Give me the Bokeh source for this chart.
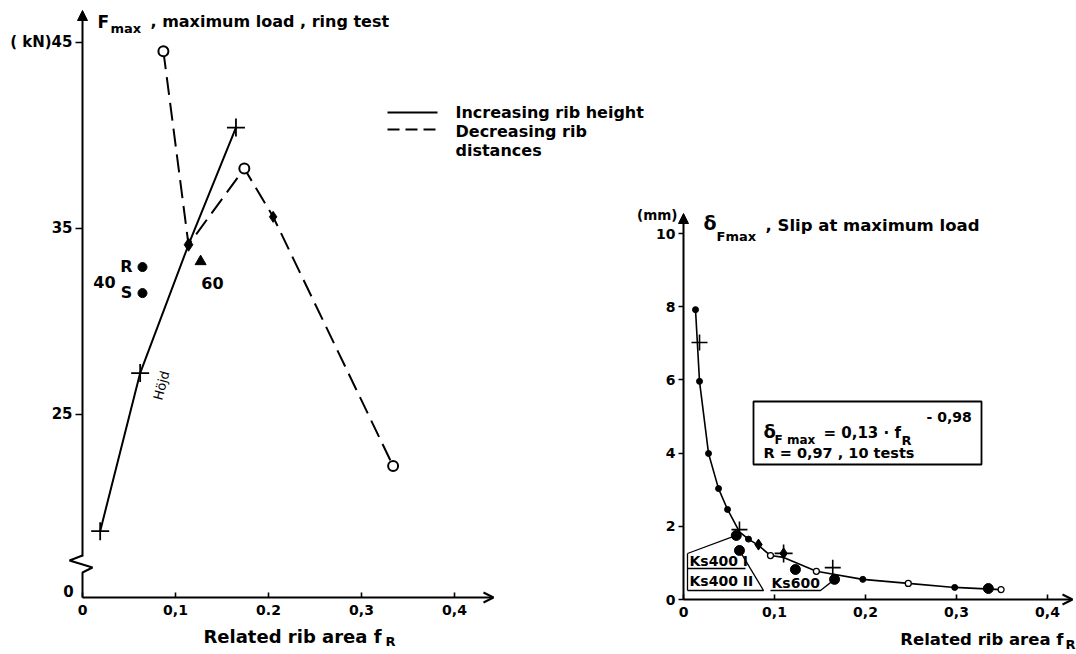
from bokeh.plotting import figure
from bokeh.models import Range1d, LinearAxis, FixedTicker, Arrow, NormalHead, OpenHead
from bokeh.core.properties import value
from bokeh.embed import file_html
from bokeh.resources import INLINE

FONT = "DejaVu Sans"

# ---------------- data ----------------
# Left panel: F_max, maximum load in ring test (kN) vs related rib area f_R
inc_fr = [0.019, 0.062, 0.114, 0.165]          # increasing rib height (solid)
inc_f = [18.7, 27.2, 34.1, 40.4]
dec_fr = [0.087, 0.114, 0.174, 0.205, 0.334]   # decreasing rib distances (dashed)
dec_f = [44.5, 34.1, 38.2, 35.6, 22.2]
rs_fr = [0.0645, 0.0645]                       # bar 40 R and 40 S
rs_f = [32.9, 31.5]
rs_names = ["R", "S"]
t60_fr = [0.127]                               # bar 60
t60_f = [33.2]

left_y_ticks = [25, 35, 45]
left_y_labels = ["25", "35", "( kN)45"]
x_ticks = [0, 0.1, 0.2, 0.3, 0.4]
left_x_labels = ["0", "0,1", "0.2", "0,3", "0,4"]
right_x_labels = ["0", "0,1", "0,2", "0,3", "0,4"]
right_y_ticks = [0, 2, 4, 6, 8, 10]

# Right panel: slip at maximum load (mm) vs f_R
curve_fr = [0.0132, 0.0176, 0.0275, 0.0385, 0.0484, 0.0615, 0.0714, 0.0824,
            0.0956, 0.110, 0.146, 0.197, 0.247, 0.298, 0.349]
curve_s = [7.92, 5.96, 3.99, 3.03, 2.46, 1.85, 1.65, 1.48,
           1.20, 1.15, 0.77, 0.55, 0.44, 0.33, 0.27]
small_fr = [0.0132, 0.0176, 0.0275, 0.0385, 0.0484, 0.0714, 0.197, 0.298]
small_s = [7.92, 5.96, 3.99, 3.03, 2.46, 1.65, 0.55, 0.33]
open_fr = [0.0956, 0.146, 0.247, 0.349]
open_s = [1.20, 0.77, 0.44, 0.27]
big_fr = [0.058, 0.0615, 0.123, 0.166, 0.335]
big_s = [1.75, 1.34, 0.82, 0.55, 0.30]
plus_fr = [0.0176, 0.0615, 0.164]
plus_s = [7.02, 1.91, 0.87]
dia_fr = [0.0824]
dia_s = [1.50]
star_fr = [0.110]
star_s = [1.26]

# ---------------- calibration (picture pixel -> panel units) ----------------
def lpx(px):
    return (px - 82.0) / 930.0

def lpy(py):
    return 35.0 - (py - 227.5) / 18.6

def rpx(px):
    return (px - 683.0) / 910.0

def rpy(py):
    return (599.0 - py) / 36.6

W, H = 1076, 654
OX, OY = 0, 0

p = figure(width=W, height=H,
           x_range=Range1d(lpx(OX), lpx(OX + W)),
           y_range=Range1d(lpy(OY + H), lpy(OY)),
           x_axis_location=None, y_axis_location=None,
           toolbar_location=None, output_backend="svg",
           min_border=0, min_border_left=0, min_border_right=0,
           min_border_top=0, min_border_bottom=0)
p.outline_line_color = None
p.background_fill_color = "white"
p.border_fill_color = "white"
p.grid.visible = False
p.extra_x_ranges = {"rx": Range1d(rpx(OX), rpx(OX + W))}
p.extra_y_ranges = {"ry": Range1d(rpy(OY + H), rpy(OY))}
R = dict(x_range_name="rx", y_range_name="ry")

YB = round(lpy(597), 3)   # broken-axis baseline ("0") of the left panel


def style_axis(ax, size):
    ax.axis_line_color = None
    ax.major_tick_line_color = "black"
    ax.major_tick_line_width = 1.6
    ax.minor_tick_line_color = None
    ax.major_label_text_font = FONT
    ax.major_label_text_font_style = "bold"
    ax.major_label_text_font_size = size
    ax.major_label_text_color = "black"


# left panel axes
ly_ax = LinearAxis(fixed_location=0, ticker=FixedTicker(ticks=left_y_ticks),
                   major_label_overrides=dict(zip(left_y_ticks, left_y_labels)))
style_axis(ly_ax, "15px")
ly_ax.major_tick_out = 7
ly_ax.major_tick_in = 0
ly_ax.major_label_standoff = 3
p.add_layout(ly_ax, "left")

lx_ax = LinearAxis(fixed_location=YB, ticker=FixedTicker(ticks=x_ticks),
                   major_label_overrides=dict(zip(x_ticks, left_x_labels)))
style_axis(lx_ax, "14px")
lx_ax.major_tick_out = 0
lx_ax.major_tick_in = 5
lx_ax.major_label_standoff = 7
p.add_layout(lx_ax, "below")

# right panel axes
ry_ax = LinearAxis(fixed_location=0, ticker=FixedTicker(ticks=right_y_ticks), **R)
style_axis(ry_ax, "14px")
ry_ax.major_tick_out = 5
ry_ax.major_tick_in = 0
ry_ax.major_label_standoff = 3
p.add_layout(ry_ax, "left")

rx_ax = LinearAxis(fixed_location=0, ticker=FixedTicker(ticks=x_ticks),
                   major_label_overrides=dict(zip(x_ticks, right_x_labels)), **R)
style_axis(rx_ax, "14px")
rx_ax.major_tick_out = 0
rx_ax.major_tick_in = 5
rx_ax.major_label_standoff = 7
p.add_layout(rx_ax, "below")

# axis lines with arrows (left y axis is broken with a zigzag)
p.line([0, 0, lpx(92), lpx(69), 0], [YB, lpy(572), lpy(567), lpy(560), lpy(555)],
       line_width=2, line_color="black")
p.add_layout(Arrow(x_start=0, y_start=lpy(556), x_end=0, y_end=lpy(10),
                   end=NormalHead(size=10, fill_color="black", line_color="black"),
                   line_width=2, line_color="black"))
p.add_layout(Arrow(x_start=0, y_start=YB, x_end=lpx(493), y_end=YB,
                   end=OpenHead(size=10, line_width=2, line_color="black"),
                   line_width=2, line_color="black"))
p.add_layout(Arrow(x_start=0, y_start=0, x_end=0, y_end=rpy(213),
                   end=NormalHead(size=10, fill_color="black", line_color="black"),
                   line_width=2, line_color="black", **R))
p.add_layout(Arrow(x_start=0, y_start=0, x_end=rpx(1072), y_end=0,
                   end=OpenHead(size=10, line_width=2, line_color="black"),
                   line_width=2, line_color="black", **R))


def txt(px, py, s, size="15px", align="left", style="bold", angle=0.0, right=False):
    kw = R if right else {}
    x = rpx(px) if right else lpx(px)
    y = rpy(py) if right else lpy(py)
    p.text(x=[x], y=[y], text=[s], text_font=value(FONT), text_font_size=value(size),
           text_font_style=value(style), text_align=value(align),
           text_baseline=value("middle"), angle=angle, text_color="black", **kw)


# ---------------- left panel marks ----------------
p.line(inc_fr, inc_f, line_width=2, line_color="black")
p.line(dec_fr, dec_f, line_width=2, line_color="black", line_dash="18 8")
p.scatter([inc_fr[i] for i in (0, 1, 3)], [inc_f[i] for i in (0, 1, 3)],
          marker="cross", size=18, line_width=1.8, line_color="black")
p.scatter([dec_fr[i] for i in (0, 2, 4)], [dec_f[i] for i in (0, 2, 4)],
          marker="circle", size=10, fill_color="white", line_color="black", line_width=2)
p.scatter([inc_fr[2]], [inc_f[2]], marker="diamond", size=13, color="black")
p.scatter([dec_fr[3]], [dec_f[3]], marker="diamond", size=11, color="black")
p.scatter(rs_fr, rs_f, marker="circle", size=9, color="black")
p.scatter(t60_fr, t60_f, marker="triangle", size=11, color="black")

# left texts
txt(97, 21, "F", "17px")
txt(110, 28, "max", "13px")
txt(150, 21, ", maximum load , ring test", "16px")
txt(126, 266, rs_names[0], "16px", align="center")
txt(126, 292, rs_names[1], "16px", align="center")
txt(104, 281, "40", "16px", align="center")
txt(212, 282, "60", "16px", align="center")
txt(161, 385, "Höjd", "13px", align="center", style="normal", angle=1.31)
txt(68, 590, "0", "15px", align="center")
txt(292, 636, "Related rib area f", "18px", align="center")
txt(385, 641, "R", "13px")

# legend
p.line([lpx(387), lpx(437)], [lpy(112), lpy(112)], line_width=1.8, line_color="black")
p.line([lpx(387), lpx(437)], [lpy(129), lpy(129)], line_width=1.8, line_color="black",
       line_dash="12 6")
txt(455, 112, "Increasing rib height", "16px")
txt(455, 131, "Decreasing rib", "16px")
txt(455, 150, "distances", "16px")

# ---------------- right panel marks ----------------
p.line(curve_fr, curve_s, line_width=1.6, line_color="black", **R)
p.scatter(small_fr, small_s, marker="circle", size=6, color="black", **R)
p.scatter(open_fr, open_s, marker="circle", size=6, fill_color="white",
          line_color="black", line_width=1.3, **R)
p.scatter(big_fr, big_s, marker="circle", size=10, color="black", **R)
p.scatter(plus_fr, plus_s, marker="cross", size=16, line_width=1.6, line_color="black", **R)
p.scatter(dia_fr, dia_s, marker="diamond", size=11, color="black", **R)
p.scatter(star_fr, star_s, marker="diamond", size=11, color="black", **R)
p.scatter(star_fr, star_s, marker="cross", size=18, line_width=1.6, line_color="black", **R)

# callouts
cw = dict(line_width=1.3, line_color="black", **R)
p.line([rpx(687), big_fr[0]], [rpy(553), big_s[0]], **cw)
p.line([rpx(687), rpx(687)], [rpy(553), rpy(590)], **cw)
p.line([rpx(687), rpx(745)], [rpy(568), rpy(568)], **cw)
p.line([rpx(687), rpx(763), big_fr[1]], [rpy(590), rpy(590), big_s[1]], **cw)
p.line([rpx(770), rpx(820), big_fr[3]], [rpy(590), rpy(590), big_s[3]], **cw)
txt(689, 560, "Ks400 I", "14px", right=True)
txt(689, 580, "Ks400 II", "14px", right=True)
txt(771, 582, "Ks600", "14px", right=True)

# equation box
p.quad(left=[rpx(753)], right=[rpx(981)], bottom=[rpy(464)], top=[rpy(401)],
       fill_color=None, line_color="black", line_width=1.8, **R)
txt(763, 431, "δ", "18px", right=True)
txt(774, 439, "F max", "12px", right=True)
txt(823, 432, "=  0,13 · f", "15px", right=True)
txt(901, 440, "R", "13px", right=True)
txt(926, 416, "- 0,98", "14px", right=True)
txt(763, 452, "R = 0,97 , 10 tests", "14.5px", right=True)

# right texts
txt(703, 222, "δ", "19px", right=True)
txt(716, 236, "Fmax", "13px", right=True)
txt(765, 225, ", Slip at maximum load", "16.5px", right=True)
txt(677, 214, "(mm)", "13.5px", align="right", right=True)
txt(1063, 639, "Related rib area f", "16.5px", align="right", right=True)
txt(1065, 644, "R", "13px", right=True)

open("out.html", "w").write(file_html(p, INLINE))
